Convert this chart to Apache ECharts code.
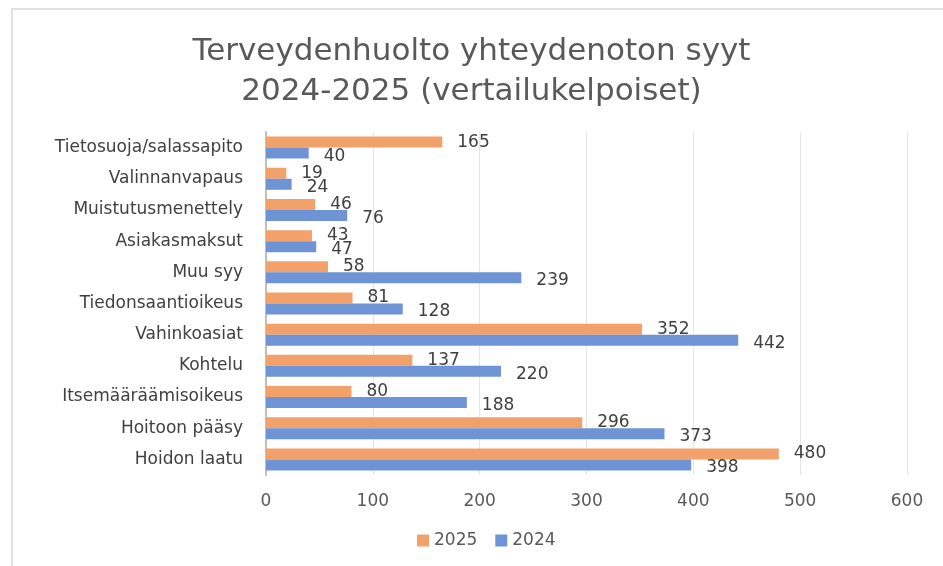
<!DOCTYPE html>
<html>
<head>
<meta charset="utf-8">
<script src="https://cdn.jsdelivr.net/npm/echarts@6/dist/echarts.min.js"></script>
<style>
  html, body { margin: 0; padding: 0; background: #fff; }
  #chart { width: 943px; height: 566px; }
</style>
</head>
<body>
<div id="chart"></div>
<script>
// categories listed bottom -> top (category axis starts at the bottom)
var categories = [
  'Hoidon laatu', 'Hoitoon pääsy', 'Itsemääräämisoikeus', 'Kohtelu',
  'Vahinkoasiat', 'Tiedonsaantioikeus', 'Muu syy', 'Asiakasmaksut',
  'Muistutusmenettely', 'Valinnanvapaus', 'Tietosuoja/salassapito'
]
var values2025 = [480, 296, 80, 137, 352, 81, 58, 43, 46, 19, 165]
var values2024 = [398, 373, 188, 220, 442, 128, 239, 47, 76, 24, 40]
var xTicks = [0, 100, 200, 300, 400, 500, 600]

var font = 'DejaVu Sans'
var chart = echarts.init(document.getElementById('chart'))

var option = {
  animation: false,
  backgroundColor: '#fff',
  title: {
    text: 'Terveydenhuolto yhteydenoton syyt\n2024-2025 (vertailukelpoiset)',
    left: 'center',
    top: 27,
    textStyle: {
      fontFamily: font,
      fontSize: 31,
      fontWeight: 'normal',
      color: '#595959',
      lineHeight: 40
    }
  },
  // chart-area border (only its left and top edges are in view)
  graphic: [{
    type: 'polyline',
    shape: { points: [[12, 600], [12, 9], [1000, 9]] },
    style: { fill: null, stroke: '#d9d9d9', lineWidth: 1.5 },
    silent: true
  }],
  legend: {
    data: ['2025', '2024'],
    bottom: 12,
    left: 412,
    itemWidth: 12,
    itemHeight: 12,
    itemGap: 18,
    icon: 'rect',
    textStyle: { fontFamily: font, fontSize: 17, color: '#595959' }
  },
  grid: { left: 266, right: 36, top: 132, bottom: 91 },
  xAxis: {
    type: 'value',
    min: 0,
    max: 600,
    interval: 100,
    axisLine: { show: false },
    axisTick: { show: false },
    splitLine: { lineStyle: { color: '#e6e6e6', width: 1 } },
    axisLabel: {
      margin: 18,
      fontFamily: font,
      fontSize: 17,
      color: '#595959',
      formatter: function (v) { return xTicks.indexOf(v) >= 0 ? String(v) : '' }
    }
  },
  yAxis: {
    type: 'category',
    data: categories,
    axisTick: { show: false },
    axisLine: { lineStyle: { color: '#bfbfbf', width: 2 } },
    axisLabel: { margin: 23, fontFamily: font, fontSize: 17, color: '#404040' }
  },
  series: [
    {
      name: '2025',
      type: 'bar',
      data: values2025,
      barWidth: 11,
      barGap: '0%',
      itemStyle: { color: '#F2A16B' },
      label: {
        show: true,
        position: 'right',
        distance: 15,
        fontFamily: font,
        fontSize: 17,
        color: '#404040'
      }
    },
    {
      name: '2024',
      type: 'bar',
      data: values2024,
      barWidth: 11,
      barGap: '0%',
      itemStyle: { color: '#6F94D6' },
      label: {
        show: true,
        position: 'right',
        distance: 15,
        offset: [0, 3],
        fontFamily: font,
        fontSize: 17,
        color: '#404040'
      }
    }
  ]
}
chart.setOption(option)
</script>
</body>
</html>
